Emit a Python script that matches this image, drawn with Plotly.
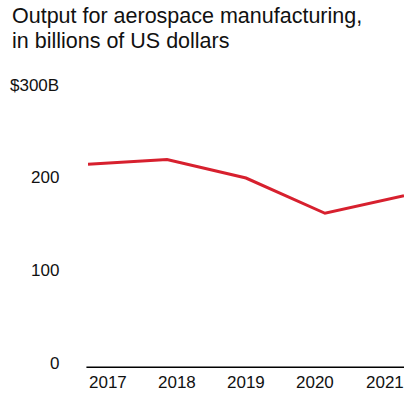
import plotly.graph_objects as go

# Aerospace manufacturing output, billions of US dollars
years = [2017, 2018, 2019, 2020, 2021]
output_billions = [220, 225, 205, 167, 186]

y_tick_values = [0, 100, 200, 300]
y_tick_labels = ["0", "100", "200", "$300B"]
x_tick_labels = ["2017", "2018", "2019", "2020", "2021"]

title_lines = ["Output for aerospace manufacturing,", "in billions of US dollars"]

FONT = "Liberation Sans, Arial, sans-serif"
TEXT_COLOR = "#111111"
LINE_COLOR = "#d7202e"

W, H = 406, 403
M_L, M_R, M_T, M_B = 88, 2, 90, 35
plot_w = W - M_L - M_R

fig = go.Figure()
fig.add_trace(go.Scatter(
    x=years, y=output_billions, mode="lines",
    line=dict(color=LINE_COLOR, width=3),
    hoverinfo="skip",
))

fig.update_layout(
    width=W, height=H,
    margin=dict(l=M_L, r=M_R, t=M_T, b=M_B),
    paper_bgcolor="white", plot_bgcolor="white",
    showlegend=False,
    font=dict(family=FONT, color=TEXT_COLOR, size=17),
    xaxis=dict(range=[years[0], years[-1]], showgrid=False, zeroline=False,
               showticklabels=False, showline=False, fixedrange=True),
    yaxis=dict(range=[0, 300], showgrid=False, zeroline=False,
               showticklabels=False, showline=False, fixedrange=True),
)

# baseline at zero
fig.add_shape(type="line", xref="paper", yref="y", x0=-0.005, x1=1, y0=0, y1=0,
              line=dict(color="black", width=3))

annotations = []
# y tick labels, right-aligned, sitting just above their values
for v, t in zip(y_tick_values, y_tick_labels):
    annotations.append(dict(
        x=(61 - M_L) / plot_w, xref="paper", y=v, yref="y",
        text=t, showarrow=False, xanchor="right", yanchor="middle",
        yshift=5, font=dict(size=17, family=FONT, color=TEXT_COLOR)))

# year labels spread evenly across the plot width
label_w = 39 / plot_w
n = len(x_tick_labels)
for i, t in enumerate(x_tick_labels):
    cx = label_w / 2 + i * (1 - label_w) / (n - 1)
    annotations.append(dict(
        x=cx, xref="paper", y=0, yref="paper",
        text=t, showarrow=False, xanchor="center", yanchor="middle",
        yshift=-14, font=dict(size=17, family=FONT, color=TEXT_COLOR)))

# two-line heading
for line, shift in zip(title_lines, [74, 49]):
    annotations.append(dict(
        x=(10 - M_L) / plot_w, xref="paper", y=1, yref="paper",
        text=line, showarrow=False, xanchor="left", yanchor="middle",
        yshift=shift, font=dict(size=21.5, family=FONT, color=TEXT_COLOR)))

fig.update_layout(annotations=annotations)

fig.write_html("out.html", config={"displayModeBar": False})
